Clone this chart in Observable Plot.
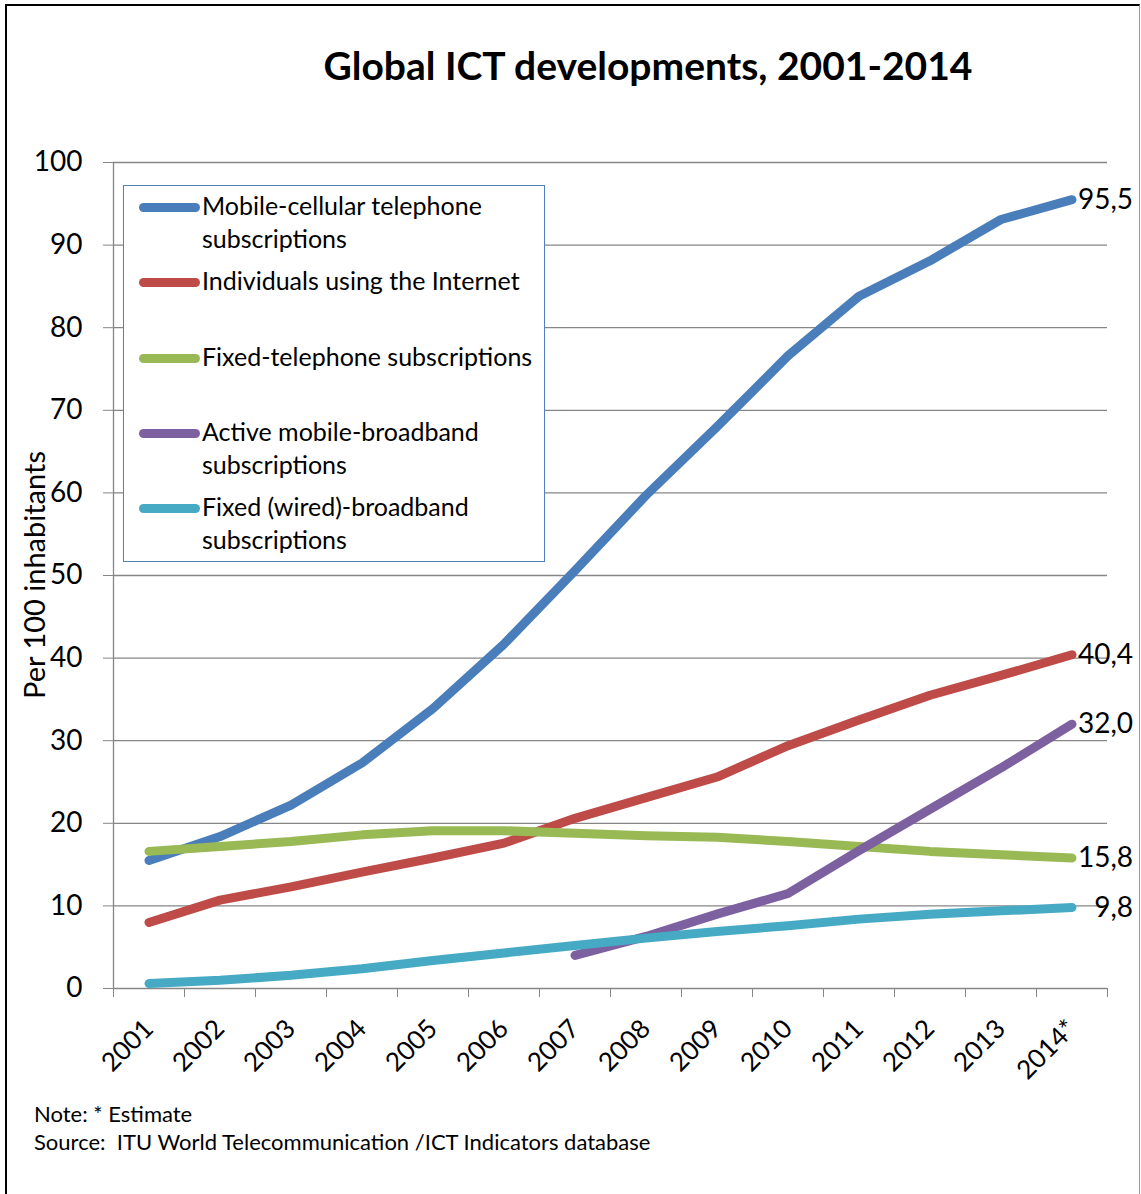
<!DOCTYPE html>
<html>
<head>
<meta charset="utf-8">
<script src="https://cdn.jsdelivr.net/npm/d3@7"></script>
<script src="https://cdn.jsdelivr.net/npm/@observablehq/plot@0.6"></script>
<style>
  body { margin: 0; background: #fff; }
  #wrap { position: relative; width: 1141px; height: 1194px; overflow: hidden; background: #fff; font-family: Lato, sans-serif; color: #000; }
  #frame { position: absolute; left: 5px; top: 4px; width: 1135px; height: 1220px; border-left: 2px solid #000; border-top: 2px solid #000; border-right: 1px solid #999; box-sizing: border-box; }
  #chart { position: absolute; left: 0; top: 0; }
  #title { position: absolute; left: 648px; top: 46px; transform: translateX(-50%); font-weight: 700; font-size: 39px; line-height: 39px; white-space: nowrap; }
  #ylabel { position: absolute; left: 33px; top: 575px; transform: translate(-50%, -50%) rotate(-90deg); font-size: 29px; white-space: nowrap; }
  #legend { position: absolute; left: 123px; top: 185px; width: 422px; height: 377px; border: 1.5px solid #4F81BD; background: #fff; box-sizing: border-box; }
  .sw { position: absolute; left: 139px; width: 61px; height: 9px; border-radius: 4.5px; }
  .lt { position: absolute; left: 202px; width: 340px; font-size: 25px; line-height: 33px; }
  #note { position: absolute; left: 34px; top: 1100px; font-size: 22px; line-height: 28px; white-space: pre; }
</style>
</head>
<body>
<div id="wrap">
  <div id="frame"></div>
  <div id="chart"></div>
  <div id="title"></div>
  <div id="ylabel"></div>
  <div id="legend"></div>
  <div id="note"></div>
</div>
<script>
const years = ["2001","2002","2003","2004","2005","2006","2007","2008","2009","2010","2011","2012","2013","2014"];
const yearLabels = ["2001","2002","2003","2004","2005","2006","2007","2008","2009","2010","2011","2012","2013","2014*"];
const mobileCellular = [15.5, 18.4, 22.2, 27.3, 33.9, 41.7, 50.6, 59.7, 68.0, 76.6, 83.8, 88.1, 93.1, 95.5];
const internetUsers = [8.0, 10.7, 12.3, 14.1, 15.8, 17.6, 20.6, 23.1, 25.6, 29.4, 32.5, 35.5, 37.9, 40.4];
const fixedTelephone = [16.6, 17.2, 17.8, 18.6, 19.1, 19.1, 18.8, 18.5, 18.3, 17.8, 17.2, 16.6, 16.2, 15.8];
const mobileBroadband = [null, null, null, null, null, null, 4.0, 6.3, 9.0, 11.5, 16.7, 21.7, 26.7, 32.0];
const fixedBroadband = [0.6, 1.0, 1.6, 2.4, 3.4, 4.3, 5.2, 6.1, 6.9, 7.6, 8.4, 9.0, 9.4, 9.8];
const seriesNames = ["Mobile-cellular telephone subscriptions", "Individuals using the Internet", "Fixed-telephone subscriptions", "Active mobile-broadband subscriptions", "Fixed (wired)-broadband subscriptions"];
const legendLines = [["Mobile-cellular telephone", "subscriptions"], ["Individuals using the Internet"], ["Fixed-telephone subscriptions"], ["Active mobile-broadband", "subscriptions"], ["Fixed (wired)-broadband", "subscriptions"]];
const seriesColors = ["#4A7EBB", "#BE4B48", "#98B954", "#7D60A0", "#46AAC5"];
const yTicks = [0, 10, 20, 30, 40, 50, 60, 70, 80, 90, 100];
const titleText = "Global ICT developments, 2001-2014";
const yTitle = "Per 100 inhabitants";
const noteText = "Note: * Estimate\nSource:  ITU World Telecommunication /ICT Indicators database";

const allSeries = [mobileCellular, internetUsers, fixedTelephone, mobileBroadband, fixedBroadband];
const seriesData = allSeries.map((vals, s) =>
  vals.map((v, i) => ({x: i + 0.5, value: v, series: seriesNames[s]})).filter(d => d.value != null)
);
const endRows = seriesData.map(rows => rows[rows.length - 1]);
const boundaries = d3.range(years.length + 1);
const centers = years.map((y, i) => i + 0.5);

const chart = Plot.plot({
  width: 1141,
  height: 1100,
  marginLeft: 113,
  marginRight: 34,
  marginTop: 162,
  marginBottom: 112,
  style: {fontFamily: "Lato, sans-serif", fontSize: "26px", color: "#000", background: "transparent", overflow: "visible"},
  x: {type: "linear", domain: [0, years.length], axis: null, label: null},
  y: {domain: [0, 100], axis: null, label: null},
  marks: [
    Plot.gridY(yTicks, {stroke: "#868686", strokeOpacity: 1, strokeWidth: 1.3}),
    Plot.ruleX([0], {stroke: "#868686", strokeWidth: 1.3}),
    Plot.axisY(yTicks, {label: null, tickSize: 10, tickPadding: 21, stroke: "#868686", strokeOpacity: 1, fontSize: 28}),
    Plot.axisX(boundaries, {label: null, tickSize: 9, tickFormat: () => "", stroke: "#868686", strokeOpacity: 1}),
    Plot.axisX(centers, {label: null, tickSize: 0, tickPadding: 36, tickRotate: -45, dx: 0, fontSize: 26, tickFormat: (d) => yearLabels[Math.floor(d)]}),
    ...seriesData.map((rows, s) => Plot.line(rows, {x: "x", y: "value", stroke: seriesColors[s], strokeWidth: 9, strokeLinecap: "round", strokeLinejoin: "round"})),
    Plot.text(endRows, {x: "x", y: "value", text: d => d.value.toFixed(1).replace(".", ","), textAnchor: "end", dx: 61, fontSize: 28, fill: "#000"})
  ]
});
document.getElementById("chart").appendChild(chart);
document.getElementById("title").textContent = titleText;
document.getElementById("ylabel").textContent = yTitle;
document.getElementById("note").textContent = noteText;

const wrap = document.getElementById("wrap");
const swatchY = [207, 282, 358, 433, 508];
legendLines.forEach((lines, s) => {
  const sw = document.createElement("div");
  sw.className = "sw";
  sw.style.top = (swatchY[s] - 4.5) + "px";
  sw.style.background = seriesColors[s];
  wrap.appendChild(sw);
  const t = document.createElement("div");
  t.className = "lt";
  t.style.top = (swatchY[s] - 18) + "px";
  t.innerHTML = lines.join("<br>");
  wrap.appendChild(t);
});
</script>
</body>
</html>
